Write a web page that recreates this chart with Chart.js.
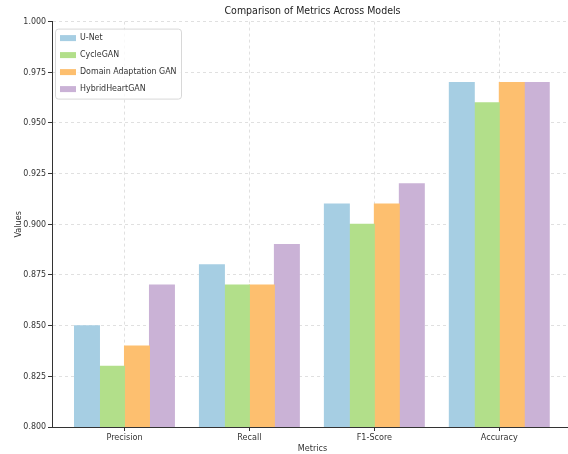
<!DOCTYPE html>
<html lang="en">
<head>
    <meta charset="UTF-8">
    <title>Comparison of Metrics Across Models</title>
    <script src="https://cdn.jsdelivr.net/npm/chart.js"></script>
    <style>
        html, body { margin: 0; padding: 0; overflow: hidden; background: #fff; }
        #wrap { width: 576px; height: 454px; position: relative; }
    </style>
</head>
<body>
    <div id="wrap"><canvas id="barChart"></canvas></div>
    <script>
        // data
        const metrics = ['Precision', 'Recall', 'F1-Score', 'Accuracy'];
        const models = ['U-Net', 'CycleGAN', 'Domain Adaptation GAN', 'HybridHeartGAN'];
        const unet = [0.85, 0.88, 0.91, 0.97];
        const cycleGan = [0.83, 0.87, 0.90, 0.96];
        const domainGan = [0.84, 0.87, 0.91, 0.97];
        const hybridGan = [0.87, 0.89, 0.92, 0.97];
        const yTicks = [0.800, 0.825, 0.850, 0.875, 0.900, 0.925, 0.950, 0.975, 1.000];

        const colors = ['#a6cee3', '#b2df8a', '#fdbf6f', '#cab2d6'];
        const font = "'DejaVu Sans Condensed', 'DejaVu Sans', sans-serif";

        const series = [unet, cycleGan, domainGan, hybridGan];
        const datasets = series.map((vals, k) => ({
            label: models[k],
            data: vals.map((v, i) => ({ x: i, y: v })),
            backgroundColor: colors[k],
            borderWidth: 0,
            inflateAmount: 0.5,
            barPercentage: 1.0,
            categoryPercentage: 0.8
        }));

        // legend box drawn inside the plot, top left
        const boxLegend = {
            id: 'boxLegend',
            afterDraw(chart) {
                const ctx = chart.ctx;
                const a = chart.chartArea;
                const x = a.left + 3, y = a.top + 7, w = 126, h = 70;
                ctx.save();
                ctx.fillStyle = 'rgba(255,255,255,0.8)';
                ctx.strokeStyle = '#d8d8d8';
                ctx.lineWidth = 1;
                ctx.beginPath();
                ctx.roundRect(x + 0.5, y + 0.5, w, h, 3);
                ctx.fill();
                ctx.stroke();
                ctx.font = '8.8px ' + font;
                ctx.textBaseline = 'middle';
                chart.data.datasets.forEach((ds, k) => {
                    const cy = y + 9.5 + k * 17;
                    ctx.fillStyle = ds.backgroundColor;
                    ctx.fillRect(x + 5, cy - 3, 16, 6);
                    ctx.fillStyle = '#333';
                    ctx.fillText(ds.label, x + 25, cy);
                });
                ctx.restore();
            }
        };

        const gridOpts = {
            color: 'rgba(0,0,0,0.12)',
            offset: false,
            tickColor: '#333',
            tickLength: 4
        };

        const ctx = document.getElementById('barChart').getContext('2d');
        const chart = new Chart(ctx, {
            type: 'bar',
            data: { datasets: datasets },
            options: {
                responsive: true,
                maintainAspectRatio: false,
                animation: false,
                layout: { padding: { left: 0, right: 3, top: 0, bottom: 0 } },
                plugins: {
                    legend: { display: false },
                    tooltip: { enabled: false },
                    title: {
                        display: true,
                        fullSize: false,
                        text: 'Comparison of Metrics Across Models',
                        color: '#222',
                        font: { family: font, size: 10.5, weight: 'normal' },
                        padding: { top: 5, bottom: 4 }
                    }
                },
                scales: {
                    x: {
                        type: 'linear',
                        offset: false,
                        min: -0.58,
                        max: 3.59,
                        afterBuildTicks: s => { s.ticks = metrics.map((m, i) => ({ value: i })); },
                        afterFit: s => { s.height = 27; },
                        ticks: {
                            callback: v => metrics[v],
                            color: '#333',
                            font: { family: font, size: 9 },
                            padding: 1,
                            maxRotation: 0
                        },
                        grid: gridOpts,
                        border: { display: true, color: '#333', width: 1, dash: [3, 3] },
                        title: {
                            display: true,
                            text: 'Metrics',
                            color: '#333',
                            font: { family: font, size: 9 },
                            padding: { top: 0, bottom: 0 }
                        }
                    },
                    y: {
                        min: 0.8,
                        max: 1.0,
                        afterBuildTicks: s => { s.ticks = yTicks.map(v => ({ value: v })); },
                        afterFit: s => { s.width = 52; },
                        ticks: {
                            callback: v => v.toFixed(3),
                            color: '#333',
                            font: { family: font, size: 8.8 },
                            padding: 2
                        },
                        grid: gridOpts,
                        border: { display: true, color: '#333', width: 1, dash: [3, 3] },
                        title: {
                            display: true,
                            text: 'Values',
                            color: '#333',
                            font: { family: font, size: 9 },
                            padding: { top: 13, bottom: 0 }
                        }
                    }
                }
            },
            plugins: [boxLegend]
        });
    </script>
</body>
</html>
